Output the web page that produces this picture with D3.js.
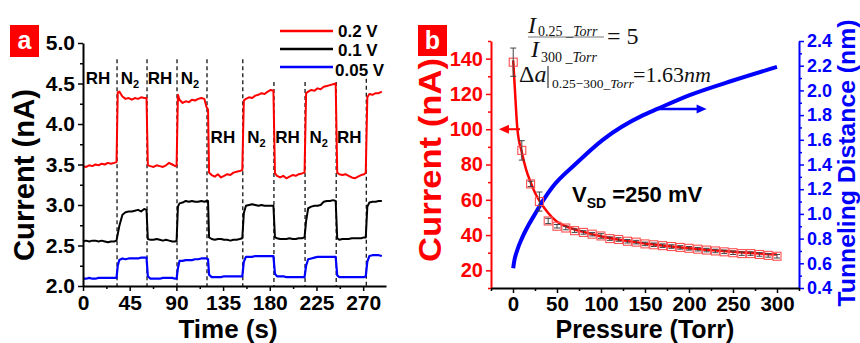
<!DOCTYPE html>
<html><head><meta charset="utf-8">
<script src="https://cdn.jsdelivr.net/npm/d3@7"></script>
<style>
body{margin:0;background:#fff;}
svg{display:block;font-family:"Liberation Sans",Arial,sans-serif;font-weight:bold;}
</style></head><body>
<svg id="c" width="860" height="343"></svg>
<script>
// ---------- Panel a data ----------
const timeS = [
 0,3,6,9,12,15,18,21,24,27,30,32.3,
 33.5,35,38,41,44,47,50,53,56,59,61.2,
 62.5,65,68,71,74,77,80,83,86,89,90.2,
 91.5,93,96,99,102,105,108,111,114,117,119,120.5,
 121.5,124,127,130,133,136,139,142,145,148,151,153.5,
 155,157,160,163,166,169,172,175,178,181,183.5,
 185,187,190,193,196,199,202,205,208,211,213.5,
 215,217,220,223,226,229,232,235,238,241,243.5,
 245,247,250,253,256,259,262,265,268,271,272.5,
 274,276,279,282,285,288];
const i02V = [
 3.48,3.47,3.49,3.48,3.50,3.49,3.51,3.50,3.52,3.51,3.52,3.53,
 4.39,4.40,4.34,4.31,4.32,4.30,4.32,4.31,4.33,4.32,4.32,
 3.49,3.48,3.47,3.49,3.48,3.47,3.49,3.52,3.50,3.48,3.49,
 4.36,4.30,4.26,4.28,4.27,4.30,4.29,4.31,4.32,4.31,4.21,4.18,
 3.40,3.37,3.35,3.38,3.34,3.36,3.38,3.37,3.40,3.41,3.42,3.43,
 4.29,4.31,4.33,4.32,4.35,4.36,4.38,4.37,4.40,4.42,4.41,
 3.39,3.36,3.34,3.36,3.33,3.35,3.37,3.36,3.38,3.39,3.40,
 4.38,4.40,4.42,4.41,4.44,4.43,4.46,4.47,4.48,4.49,4.50,
 3.40,3.38,3.37,3.38,3.36,3.34,3.33,3.35,3.37,3.38,3.40,
 4.33,4.37,4.36,4.38,4.38,4.40];
const i01V = [
 2.55,2.56,2.55,2.56,2.56,2.55,2.56,2.55,2.54,2.55,2.55,2.56,
 2.64,2.74,2.88,2.91,2.92,2.92,2.93,2.94,2.92,2.95,2.94,
 2.58,2.57,2.57,2.58,2.57,2.56,2.57,2.56,2.55,2.55,2.56,
 2.98,3.02,3.03,3.05,3.04,3.05,3.04,3.04,3.05,3.04,3.05,3.05,
 2.60,2.58,2.57,2.58,2.58,2.57,2.57,2.56,2.57,2.57,2.58,2.59,
 2.90,2.99,3.00,3.01,3.00,2.99,3.00,2.99,2.99,2.99,2.99,
 2.60,2.59,2.58,2.58,2.58,2.59,2.58,2.58,2.59,2.59,2.60,
 2.80,2.96,2.98,2.99,2.99,3.00,3.04,3.05,3.05,3.06,3.05,
 2.59,2.57,2.58,2.58,2.58,2.59,2.59,2.59,2.59,2.60,2.60,
 2.98,3.03,3.04,3.04,3.05,3.05];
const i005V = [
 2.09,2.09,2.10,2.09,2.09,2.10,2.10,2.10,2.10,2.10,2.10,2.10,
 2.25,2.32,2.34,2.33,2.34,2.34,2.34,2.34,2.35,2.35,2.35,
 2.12,2.09,2.09,2.09,2.09,2.10,2.10,2.10,2.10,2.09,2.09,
 2.22,2.31,2.31,2.32,2.32,2.32,2.33,2.33,2.34,2.34,2.34,2.33,
 2.14,2.11,2.11,2.11,2.11,2.12,2.12,2.12,2.12,2.12,2.12,2.12,
 2.30,2.36,2.36,2.36,2.37,2.37,2.37,2.37,2.37,2.37,2.37,
 2.15,2.12,2.12,2.12,2.11,2.11,2.11,2.11,2.11,2.11,2.11,
 2.25,2.33,2.34,2.35,2.36,2.36,2.36,2.36,2.36,2.36,2.36,
 2.13,2.11,2.11,2.11,2.11,2.11,2.11,2.11,2.11,2.11,2.12,
 2.30,2.37,2.38,2.38,2.38,2.37];
const seriesNames = ["0.2 V","0.1 V","0.05 V"];
const seriesColors = ["#ff0000","#000000","#0000ff"];
const switchTimes = [32.8,61.7,90.6,119.5,154,184,214,244,273];
const switchTopVal = [4.80,4.80,4.80,4.80,4.80,4.52,4.52,4.52,4.56];
const gasLabels = ["RH","N2","RH","N2","RH","N2","RH","N2","RH"];
const gasRow = [0,0,0,0,1,1,1,1,1];
const xTicksA = [0,45,90,135,180,225,270];
const yTicksA = [2.0,2.5,3.0,3.5,4.0,4.5,5.0];

// ---------- Panel b data ----------
const pressure = [0.25,10,20,30,40,50,60,70,80,90,100,110,120,130,140,150,160,170,180,190,200,210,220,230,240,250,260,270,280,290,300];
const currentNA = [138,88,69,59,48,45,44,42.5,41.5,40.5,39.5,38,37.5,36.5,36,35,34.5,34,33.5,33,32.5,32,31.5,31,30.5,30,29.5,29.5,29,28.5,28];
const currentErr = [8,5.5,1.5,5.4,1.5,1,1,1,1,1,1.3,1,1,1,1,1,1,1,1,1,1,1,1,1,1,1,1,1,1,1,1];
const fitP = [0.25,2,5,10,15,20,25,30,40,50,60,80,100,125,150,175,200,250,300];
const fitI = [139,124,100,87,77,70,64,59.5,52.5,47.5,45,41.8,39.3,37,35.2,33.8,32.5,30.5,29];
const distP = [0.25,1,5,10,25,44,72,102,148,164,200,250,300];
const distNm = [0.56,0.60,0.71,0.80,1.00,1.21,1.41,1.60,1.80,1.85,1.96,2.08,2.19];
const xTicksB = [0,50,100,150,200,250,300];
const yTicksBL = [20,40,60,80,100,120,140];
const yTicksBR = [0.4,0.6,0.8,1.0,1.2,1.4,1.6,1.8,2.0,2.2,2.4];

const svg = d3.select("#c");
const FONT = '"Liberation Sans",Arial,sans-serif';
const SERIF = '"Liberation Serif","Times New Roman",serif';

function styleAxis(g, color, fs){
  g.attr("font-family", FONT).attr("font-size", fs).attr("font-weight","bold");
  g.selectAll("path.domain").attr("stroke", color).attr("stroke-width", 2);
  g.selectAll(".tick line").attr("stroke", color).attr("stroke-width", 1.5);
  g.selectAll(".tick text").attr("fill", color);
}
function minor(g){ g.selectAll("path.domain").remove(); }

// ================= Panel a =================
const xA = d3.scaleLinear().domain([0,292]).range([83,386]);
const yA = d3.scaleLinear().domain([2,5]).range([286,43]);

svg.append("g").selectAll("line").data(switchTimes).join("line")
  .attr("x1", d=>xA(d)).attr("x2", d=>xA(d))
  .attr("y1", (d,i)=>yA(switchTopVal[i])).attr("y2", yA(2))
  .attr("stroke","#000").attr("stroke-width",1.2).attr("stroke-dasharray","4,3");

const seriesData = [i02V, i01V, i005V];
const lineA = d3.line().x(d=>xA(d[0])).y(d=>yA(d[1]));
seriesData.forEach((vals, k)=>{
  svg.append("path").datum(timeS.map((t,i)=>[t, vals[i]]))
    .attr("d", lineA).attr("fill","none")
    .attr("stroke", seriesColors[k]).attr("stroke-width", k===2?2.2:2)
    .attr("stroke-linejoin","round");
});

const gyA = svg.append("g").attr("transform","translate(83,0)")
  .call(d3.axisLeft(yA).tickValues(yTicksA).tickFormat(d3.format(".1f")).tickSize(5).tickPadding(3).tickSizeOuter(0));
styleAxis(gyA,"#000",21);
const gyAm = svg.append("g").attr("transform","translate(83,0)")
  .call(d3.axisLeft(yA).tickValues(d3.range(2.25,5,0.5)).tickFormat("").tickSize(3).tickSizeOuter(0));
minor(gyAm); styleAxis(gyAm,"#000",10);
const gxA = svg.append("g").attr("transform","translate(0,286)")
  .call(d3.axisBottom(xA).tickValues(xTicksA).tickSize(5).tickPadding(4).tickSizeOuter(0));
styleAxis(gxA,"#000",21);
const gxAm = svg.append("g").attr("transform","translate(0,286)")
  .call(d3.axisBottom(xA).tickValues(d3.range(22.5,292,45)).tickFormat("").tickSize(3).tickSizeOuter(0));
minor(gxAm); styleAxis(gxAm,"#000",10);

const segBounds = [0].concat(switchTimes).concat([292]);
gasLabels.forEach((lab,i)=>{
  const cx = xA((segBounds[i]+segBounds[i+1])/2) - 2;
  const y = gasRow[i]===0 ? 84 : 143;
  const t = svg.append("text").attr("x",cx).attr("y",y).attr("text-anchor","middle")
    .attr("font-size",17).attr("fill","#000");
  if(lab==="N2"){ t.append("tspan").text("N"); t.append("tspan").text("2").attr("font-size",11).attr("dy",4); }
  else t.text(lab);
});

svg.append("text").attr("transform","translate(34,175) rotate(-90)").attr("text-anchor","middle")
  .attr("font-size",29).attr("textLength",172).attr("lengthAdjust","spacingAndGlyphs").text("Current (nA)");
svg.append("text").attr("x",228).attr("y",338).attr("text-anchor","middle").attr("font-size",26).text("Time (s)");

const legendBase = [36.5, 56, 76];
seriesNames.forEach((n,k)=>{
  const ly = 31 + k*18;
  svg.append("line").attr("x1",280).attr("x2",333).attr("y1",ly).attr("y2",ly)
    .attr("stroke",seriesColors[k]).attr("stroke-width",2.5);
  svg.append("text").attr("x", k===2?335:338).attr("y", legendBase[k]).attr("font-size",17).attr("fill","#000").text(n);
});

svg.append("rect").attr("x",10).attr("y",25).attr("width",29).attr("height",32).attr("fill","#ff0000");
svg.append("text").attr("x",24.5).attr("y",49).attr("text-anchor","middle").attr("font-size",25).attr("fill","#fff").text("a");

// ================= Panel b =================
const xB = d3.scaleLinear().domain([-25,325]).range([491,799]);
const yBL = d3.scaleLinear().domain([10,150]).range([288,41]);
const yBR = d3.scaleLinear().domain([0.4,2.4]).range([288,41]);

svg.append("path").datum(fitP.map((p,i)=>[p,fitI[i]]))
  .attr("d", d3.line().x(d=>xB(d[0])).y(d=>yBL(d[1])).curve(d3.curveMonotoneX))
  .attr("fill","none").attr("stroke","#ff0000").attr("stroke-width",2.5);
svg.append("path").datum(distP.map((p,i)=>[p,distNm[i]]))
  .attr("d", d3.line().x(d=>xB(d[0])).y(d=>yBR(d[1])).curve(d3.curveMonotoneX))
  .attr("fill","none").attr("stroke","#0000ff").attr("stroke-width",4);

svg.append("g").selectAll("rect").data(pressure).join("rect")
  .attr("x", d=>xB(d)-4).attr("y",(d,i)=>yBL(currentNA[i])-4)
  .attr("width",8).attr("height",8).attr("fill","none")
  .attr("stroke","#ff5050").attr("stroke-width",1.1);
const eb = svg.append("g").attr("stroke","#444").attr("stroke-width",1);
pressure.forEach((p,i)=>{
  const x = xB(p), y1 = yBL(currentNA[i]-currentErr[i]), y2 = yBL(currentNA[i]+currentErr[i]);
  eb.append("line").attr("x1",x).attr("x2",x).attr("y1",y1).attr("y2",y2);
  eb.append("line").attr("x1",x-3).attr("x2",x+3).attr("y1",y1).attr("y2",y1);
  eb.append("line").attr("x1",x-3).attr("x2",x+3).attr("y1",y2).attr("y2",y2);
});

function arrow(x1,y,x2,color,w){
  const dir = Math.sign(x2-x1), hl = 10, hw = 4.5;
  svg.append("line").attr("x1",x1).attr("x2",x2-dir*hl*0.8).attr("y1",y).attr("y2",y).attr("stroke",color).attr("stroke-width",w);
  svg.append("path").attr("d",`M${x2},${y}L${x2-dir*hl},${y-hw}L${x2-dir*hl},${y+hw}Z`).attr("fill",color);
}
arrow(xB(8), yBL(100), xB(-16), "#ff0000", 2);
arrow(xB(164), yBR(1.85), xB(220), "#0000ff", 2.5);

const gyBL = svg.append("g").attr("transform","translate(491,0)")
  .call(d3.axisLeft(yBL).tickValues(yTicksBL).tickSize(5).tickPadding(3).tickSizeOuter(0));
styleAxis(gyBL,"#ff0000",20);
const gyBLm = svg.append("g").attr("transform","translate(491,0)")
  .call(d3.axisLeft(yBL).tickValues(d3.range(10,151,20)).tickFormat("").tickSize(3).tickSizeOuter(0));
minor(gyBLm); styleAxis(gyBLm,"#ff0000",10);
const gyBR = svg.append("g").attr("transform","translate(799,0)")
  .call(d3.axisRight(yBR).tickValues(yTicksBR).tickFormat(d3.format(".1f")).tickSize(5).tickPadding(3).tickSizeOuter(0));
styleAxis(gyBR,"#0000ff",18);
const gyBRm = svg.append("g").attr("transform","translate(799,0)")
  .call(d3.axisRight(yBR).tickValues(d3.range(0.5,2.4,0.2)).tickFormat("").tickSize(3).tickSizeOuter(0));
minor(gyBRm); styleAxis(gyBRm,"#0000ff",10);
const gxB = svg.append("g").attr("transform","translate(0,288)")
  .call(d3.axisBottom(xB).tickValues(xTicksB).tickSize(5).tickPadding(3).tickSizeOuter(0));
styleAxis(gxB,"#000",20.5);
const gxBm = svg.append("g").attr("transform","translate(0,288)")
  .call(d3.axisBottom(xB).tickValues(d3.range(-25,326,50)).tickFormat("").tickSize(3).tickSizeOuter(0));
minor(gxBm); styleAxis(gxBm,"#000",10);

svg.append("text").attr("transform","translate(441,160) rotate(-90)").attr("text-anchor","middle")
  .attr("font-size",31).attr("fill","#ff0000").attr("textLength",204).attr("lengthAdjust","spacingAndGlyphs").text("Current (nA)");
svg.append("text").attr("x",645).attr("y",338).attr("text-anchor","middle").attr("font-size",25).text("Pressure (Torr)");
svg.append("text").attr("transform","translate(855,163) rotate(-90)").attr("text-anchor","middle")
  .attr("font-size",24).attr("fill","#0000ff").attr("textLength",287).attr("lengthAdjust","spacingAndGlyphs").text("Tunneling Distance (nm)");

const vt = svg.append("text").attr("x",572).attr("y",202).attr("font-size",22).attr("fill","#000");
vt.append("tspan").text("V");
vt.append("tspan").text("SD").attr("font-size",14).attr("dy",6);
vt.append("tspan").text(" =250 mV").attr("dy",-6);

const eq = svg.append("g").attr("font-family",SERIF).attr("font-weight","normal").attr("fill","#111");
let t1 = eq.append("text").attr("x",528).attr("y",33).attr("font-size",24);
t1.append("tspan").text("I").attr("font-style","italic");
t1.append("tspan").text("0.25 ").attr("font-size",14).attr("dy",3).attr("dx",2);
t1.append("tspan").text("_Torr").attr("font-size",14).attr("font-style","italic");
eq.append("line").attr("x1",528).attr("x2",604).attr("y1",37).attr("y2",37).attr("stroke","#777").attr("stroke-width",1);
eq.append("text").attr("x",607).attr("y",44).attr("font-size",24).text("= 5");
let t2 = eq.append("text").attr("x",531).attr("y",57).attr("font-size",24);
t2.append("tspan").text("I").attr("font-style","italic");
t2.append("tspan").text("300 ").attr("font-size",14).attr("dy",5).attr("dx",2);
t2.append("tspan").text("_Torr").attr("font-size",14).attr("font-style","italic");
let t3 = eq.append("text").attr("x",519).attr("y",82).attr("font-size",24);
t3.append("tspan").text("Δ");
t3.append("tspan").text("a").attr("font-style","italic");
eq.append("line").attr("x1",548).attr("x2",548).attr("y1",66).attr("y2",88).attr("stroke","#222").attr("stroke-width",1.1);
let t4 = eq.append("text").attr("x",552).attr("y",88).attr("font-size",13.5);
t4.append("tspan").text("0.25−300");
t4.append("tspan").text("_Torr").attr("font-style","italic");
let t5 = eq.append("text").attr("x",633).attr("y",82).attr("font-size",22);
t5.append("tspan").text("=1.63");
t5.append("tspan").text("nm").attr("font-style","italic");

svg.append("rect").attr("x",418).attr("y",25).attr("width",29).attr("height",31).attr("fill","#ff0000");
svg.append("text").attr("x",432.5).attr("y",49).attr("text-anchor","middle").attr("font-size",25).attr("fill","#fff").text("b");
</script></body></html>
